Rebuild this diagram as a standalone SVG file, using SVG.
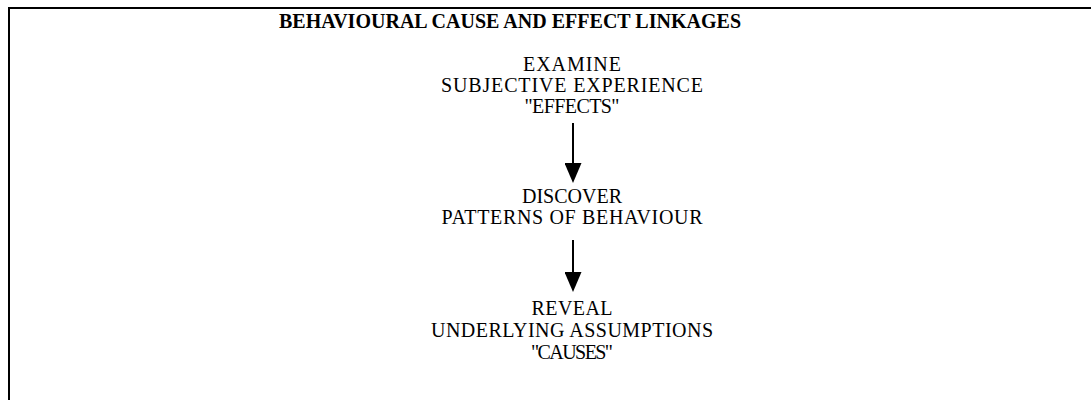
<svg xmlns="http://www.w3.org/2000/svg" width="1091" height="400" viewBox="0 0 1091 400">
<style>
.t{font-family:"Liberation Serif","Times New Roman",serif;font-size:20px;fill:#000;text-anchor:middle}
.title{font-family:"Liberation Serif","Times New Roman",serif;font-size:20px;font-weight:bold;fill:#000;text-anchor:middle}
.c{stroke:#000;stroke-width:2;fill:none}
</style>
<defs>
<marker id="ah" viewBox="0 0 20 17" refX="0" refY="8.5" markerWidth="20" markerHeight="17" markerUnits="userSpaceOnUse" orient="auto">
<path d="M0,0 L20,8.5 L0,17 z" fill="#000"/>
</marker>
</defs>
<rect x="0" y="0" width="1091" height="400" fill="#fff"/>
<rect x="9" y="8" width="1100" height="410" fill="none" stroke="#000" stroke-width="2"/>
<text id="title" class="title" x="510" y="28" textLength="462" lengthAdjust="spacing">BEHAVIOURAL CAUSE AND EFFECT LINKAGES</text>
<g id="examine">
<text class="t" x="572" y="71" textLength="98" lengthAdjust="spacing">EXAMINE</text>
<text class="t" x="572" y="92" textLength="262" lengthAdjust="spacing">SUBJECTIVE EXPERIENCE</text>
<text class="t" x="572" y="113" textLength="95" lengthAdjust="spacing">"EFFECTS"</text>
</g>
<g id="discover">
<text class="t" x="572" y="203" textLength="100" lengthAdjust="spacing">DISCOVER</text>
<text class="t" x="572" y="224" textLength="261" lengthAdjust="spacing">PATTERNS OF BEHAVIOUR</text>
</g>
<g id="reveal">
<text class="t" x="572" y="315" textLength="81" lengthAdjust="spacing">REVEAL</text>
<text class="t" x="572" y="337" textLength="282" lengthAdjust="spacing">UNDERLYING ASSUMPTIONS</text>
<text class="t" x="572" y="359" textLength="82" lengthAdjust="spacing">"CAUSES"</text>
</g>
<g id="connectors">
<line class="c" x1="573" y1="123" x2="573" y2="163" marker-end="url(#ah)"/>
<line class="c" x1="573" y1="240" x2="573" y2="272" marker-end="url(#ah)"/>
</g>
</svg>
